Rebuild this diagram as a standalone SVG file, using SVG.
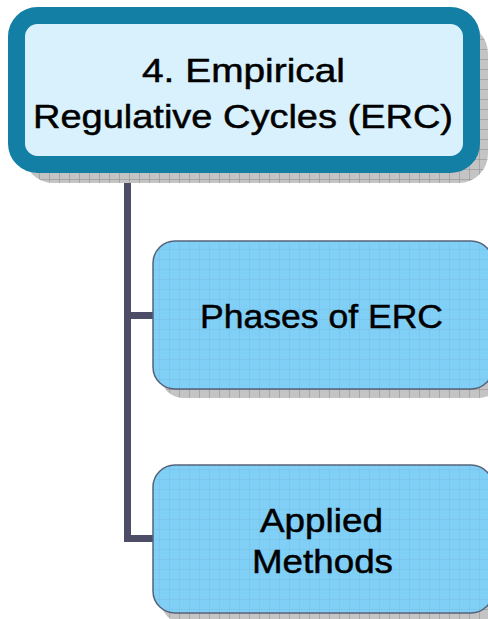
<svg xmlns="http://www.w3.org/2000/svg" width="488" height="619" viewBox="0 0 488 619">
  <defs>
    <pattern id="grid" width="10" height="10" patternUnits="userSpaceOnUse">
      <path d="M10 0V10M0 10H10" fill="none" stroke="#5a6f86" stroke-width="0.8" stroke-opacity="0.22"/>
    </pattern>
    <pattern id="sgrid" width="10" height="10" patternUnits="userSpaceOnUse">
      <rect width="10" height="10" fill="#c4c4c4"/>
      <path d="M10 0V10M0 10H10" fill="none" stroke="#8a8a8a" stroke-width="1"/>
    </pattern>
  </defs>
  <style>
    .lbl { font-family: "Liberation Sans", Arial, sans-serif; fill: #000; stroke: #000; stroke-width: 0.5; text-anchor: middle; }
    .conn { fill: none; stroke: #4d4d68; stroke-width: 7; }
    .sub { fill: #80cff6; stroke: #55637a; stroke-width: 1.5; }
  </style>
  <rect width="488" height="619" fill="#ffffff"/>

  <g id="connectors">
    <path class="conn" d="M127.5 170V538.5H154M127.5 315.5H154"/>
  </g>

  <g id="node-erc">
    <rect x="24" y="24" width="464" height="159" rx="29" fill="url(#sgrid)"/>
    <rect x="16.5" y="15.5" width="455" height="149" rx="21" fill="#d9f1fc" stroke="#147fa5" stroke-width="17"/>
    <text class="lbl" x="243.5" y="82" font-size="34" textLength="203" lengthAdjust="spacingAndGlyphs">4. Empirical</text>
    <text class="lbl" x="243" y="128" font-size="34" textLength="420" lengthAdjust="spacingAndGlyphs">Regulative Cycles (ERC)</text>
  </g>

  <g id="node-phases">
    <rect x="161" y="249" width="340" height="149" rx="22" fill="url(#sgrid)"/>
    <rect class="sub" x="153" y="241" width="340" height="148" rx="22"/>
    <rect x="153" y="241" width="340" height="148" rx="22" fill="url(#grid)"/>
    <text class="lbl" x="321.5" y="328" font-size="34" textLength="243" lengthAdjust="spacingAndGlyphs">Phases of ERC</text>
  </g>

  <g id="node-methods">
    <rect x="161" y="473" width="340" height="150" rx="22" fill="url(#sgrid)"/>
    <rect class="sub" x="153" y="465" width="340" height="148" rx="22"/>
    <rect x="153" y="465" width="340" height="148" rx="22" fill="url(#grid)"/>
    <text class="lbl" x="321.5" y="532" font-size="34" textLength="123" lengthAdjust="spacingAndGlyphs">Applied</text>
    <text class="lbl" x="322.5" y="573" font-size="34" textLength="141" lengthAdjust="spacingAndGlyphs">Methods</text>
  </g>
</svg>
